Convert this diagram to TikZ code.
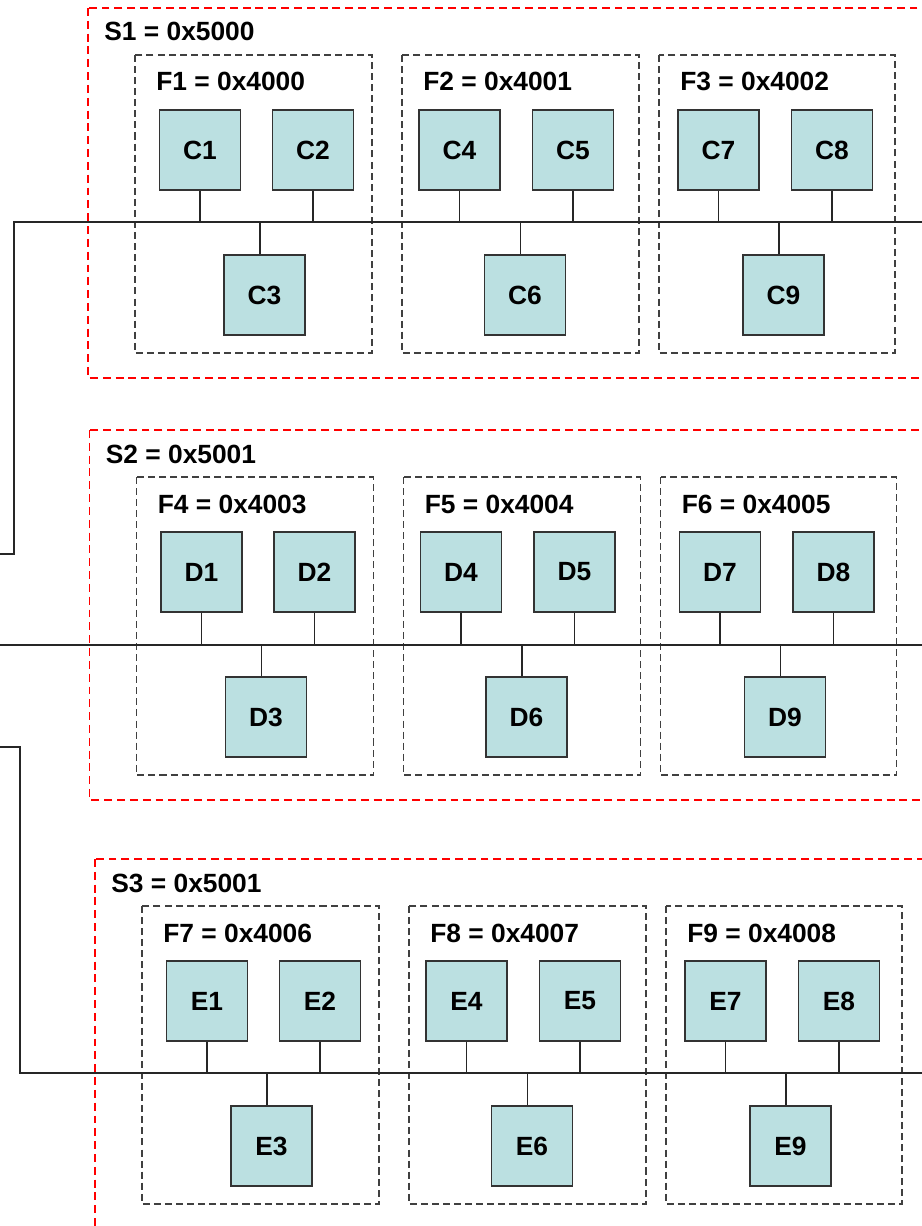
\documentclass[tikz,border=0pt]{standalone}
\usepackage{fontspec}
\setmainfont{Liberation Sans}
\definecolor{cellfill}{RGB}{187,224,225}

\begin{document}
\begin{tikzpicture}[x=0.02cm, y=-0.02cm,
	every node/.style={font=\fontsize{15}{17}\selectfont\bfseries},
	tag/.style={anchor=base west, inner sep=0pt},
	cell/.style={draw=black!80, fill=cellfill, line width=1pt, minimum width=1.62cm, minimum height=1.6cm, inner sep=0pt},
	wire/.style={black!85, line width=1pt},
	shelf/.style={red, line width=0.8pt, dash pattern=on 4.5pt off 2.8pt},
	frame/.style={black!75, line width=0.8pt, dash pattern=on 4pt off 2.3pt}]
	\useasboundingbox (0,0) rectangle (922,1226);
	\clip (0,0) rectangle (922,1226);
	% one shelf per row, three frames per shelf
	\foreach \r/\L/\dx/\dy/\sv in {1/C/0/0/5000, 2/D/1.5/422/5001, 3/E/7/851/5001} {
		\begin{scope}[shift={(\dx,\dy)}]
			\draw[shelf] (88,8) rectangle (960,378);
			\node[tag] (S\r) at (104,41) {S\r{} = 0x\sv};
			\coordinate (bus\r) at (0,222);
			\foreach \c/\fl/\fr/\ua/\ub/\lo in {0/135/372/200/313/264.5, 1/402/639/459.5/573/525, 2/659/895/718.5/832/783.5} {
				\pgfmathtruncatemacro\fn{3*(\r-1)+\c+1}
				\pgfmathtruncatemacro\fv{4000+3*(\r-1)+\c}
				\pgfmathtruncatemacro\na{3*\c+1}
				\pgfmathtruncatemacro\nb{3*\c+2}
				\pgfmathtruncatemacro\nc{3*\c+3}
				\draw[frame] (\fl,55) rectangle (\fr,353);
				\node[tag] (F\fn) at (\fl+21,91) {F\fn{} = 0x\fv};
				\node[cell] (\L\na) at (\ua,150) {\L\na};
				\node[cell] (\L\nb) at (\ub,150) {\L\nb};
				\node[cell] (\L\nc) at (\lo,295) {\L\nc};
				\draw[wire] (\L\na.south) -- (\L\na.south |- bus\r);
				\draw[wire] (\L\nb.south) -- (\L\nb.south |- bus\r);
				\draw[wire] ([xshift=-2.5pt]\L\nc.north) -- ([xshift=-2.5pt]\L\nc.north |- bus\r);
			}
		\end{scope}
	}
	% buses
	\coordinate (busA) at (922,222);
	\coordinate (bendA) at (14,554);
	\coordinate (tapA) at (0,554);
	\coordinate (busB1) at (0,645);
	\coordinate (busB2) at (922,645);
	\coordinate (tapB) at (0,747);
	\coordinate (bendB) at (20,1073);
	\coordinate (busC) at (922,1073);
	\draw[wire] (busA) -| (bendA) -- (tapA);
	\draw[wire] (busB1) -- (busB2);
	\draw[wire] (tapB) -| (bendB) -- (busC);
\end{tikzpicture}
\end{document}
